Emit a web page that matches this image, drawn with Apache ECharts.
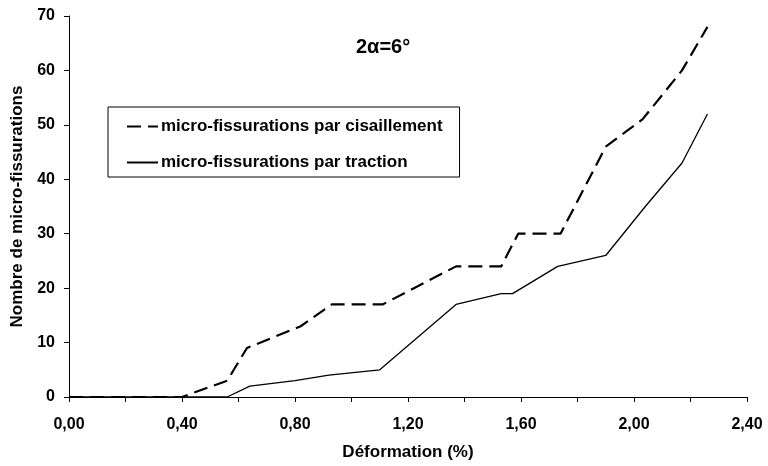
<!DOCTYPE html>
<html>
    <head>
        <meta charset="utf-8">
        <script src="https://cdn.jsdelivr.net/npm/echarts@6/dist/echarts.min.js"></script>
    </head>
    <body>
        <style>
            html, body, #main {
                width: 768px;
                height: 466px;
                margin: 0;
                background: #fff;
            }
        </style>
        <div id='main'></div>
        <script>
            // deformation (%) and counts
            var shearStrain = [0, 0.40, 0.56, 0.63, 0.82, 0.93, 1.11, 1.37, 1.53, 1.59, 1.74, 1.90, 2.03, 2.17, 2.26];
            var shearCount  = [0, 0, 3, 9, 13, 17, 17, 24, 24, 30, 30, 46, 51, 60, 68];
            var tensStrain  = [0, 0.56, 0.64, 0.80, 0.92, 1.10, 1.37, 1.53, 1.57, 1.73, 1.90, 2.04, 2.17, 2.26];
            var tensCount   = [0, 0, 2, 3, 4, 5, 17, 19, 19, 24, 26, 35, 43, 52];
            var names = ['micro-fissurations par cisaillement', 'micro-fissurations par traction'];

            var font = 'Liberation Sans, Arial, sans-serif';
            function pairs(xs, ys) {
                return xs.map(function (x, i) { return [x, ys[i]]; });
            }

            var chart = echarts.init(document.getElementById('main'));
            var option = {
                animation: false,
                backgroundColor: '#fff',
                title: {
                    text: '2α=6°',
                    left: 351,
                    top: 32,
                    textStyle: {fontFamily: font, fontWeight: 'bold', fontSize: 20, color: '#000'}
                },
                legend: {
                    orient: 'vertical',
                    left: 108,
                    top: 107,
                    padding: [11, 17, 6, 18],
                    itemWidth: 31,
                    itemHeight: 14,
                    itemGap: 19,
                    borderColor: '#000',
                    borderWidth: 1,
                    itemStyle: {opacity: 0},
                    textStyle: {fontFamily: font, fontWeight: 'bold', fontSize: 17, color: '#000', padding: [0, 0, 0, -2]},
                    data: names
                },
                grid: {left: 69, right: 21, top: 16, bottom: 69},
                xAxis: {
                    type: 'value',
                    min: 0,
                    max: 2.4,
                    interval: 0.4,
                    name: 'Déformation (%)',
                    nameLocation: 'middle',
                    nameGap: 47,
                    nameTextStyle: {fontFamily: font, fontWeight: 'bold', fontSize: 17, color: '#000'},
                    axisLine: {lineStyle: {color: '#000', width: 1}},
                    axisTick: {show: true, length: 5, lineStyle: {color: '#000'}},
                    minorTick: {show: true, splitNumber: 2, length: 5, lineStyle: {color: '#000'}},
                    splitLine: {show: false},
                    axisLabel: {
                        margin: 20,
                        fontFamily: font, fontWeight: 'bold', fontSize: 16, color: '#000',
                        formatter: function (v) { return v.toFixed(2).replace('.', ','); }
                    }
                },
                yAxis: {
                    type: 'value',
                    min: 0,
                    max: 70,
                    interval: 10,
                    name: 'Nombre de micro-fissurations',
                    nameLocation: 'middle',
                    nameGap: 40,
                    nameTextStyle: {fontFamily: font, fontWeight: 'bold', fontSize: 17, color: '#000'},
                    axisLine: {show: true, lineStyle: {color: '#000', width: 1}},
                    axisTick: {show: true, length: 5, lineStyle: {color: '#000'}},
                    splitLine: {show: false},
                    axisLabel: {margin: 14, fontFamily: font, fontWeight: 'bold', fontSize: 16, color: '#000'}
                },
                series: [
                    {
                        name: names[0],
                        type: 'line',
                        symbol: 'none',
                        z: 3,
                        lineStyle: {color: '#000', width: 2.2, type: [14, 7]},
                        itemStyle: {color: '#000'},
                        data: pairs(shearStrain, shearCount)
                    },
                    {
                        name: names[1],
                        type: 'line',
                        symbol: 'none',
                        z: 2,
                        lineStyle: {color: '#000', width: 1.3},
                        itemStyle: {color: '#000'},
                        data: pairs(tensStrain, tensCount)
                    }
                ]
            };
            chart.setOption(option);
        </script>
    </body>
</html>
